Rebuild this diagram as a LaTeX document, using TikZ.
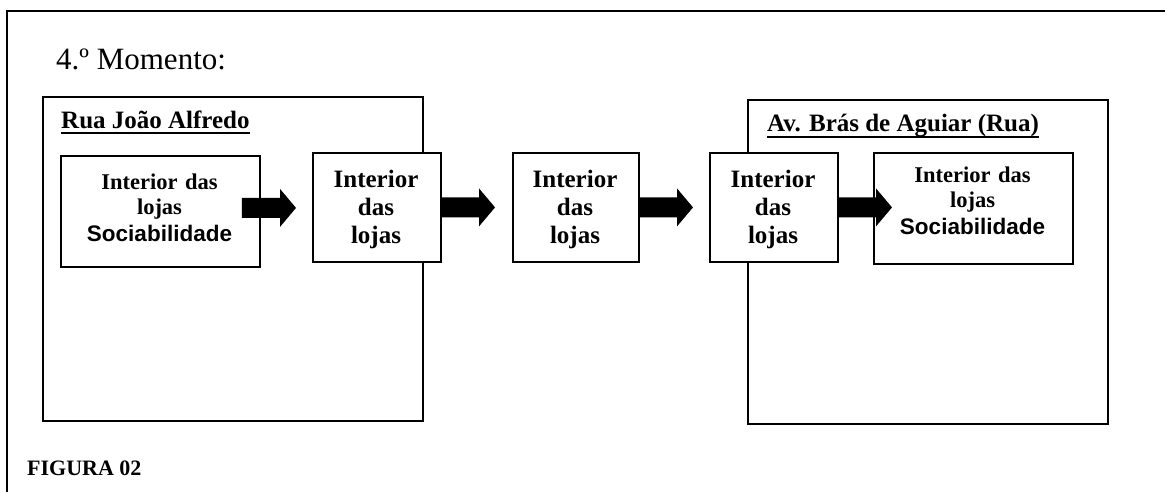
\documentclass[tikz,border=0pt]{standalone}
\usepackage{fontspec}
\setmainfont{Liberation Serif}
\newfontfamily\arialfam{Liberation Sans}
\usetikzlibrary{calc}
\newcommand\blockarrow[2]{%
  \fill let \p1=#1, \p2=#2 in
    (\x1,\y1+10pt) -- (\x2-16pt,\y1+10pt) -- (\x2-16pt,\y1+19pt) -- (\x2,\y1)
    -- (\x2-16pt,\y1-19pt) -- (\x2-16pt,\y1-10pt) -- (\x1,\y1-10pt) -- cycle;}
\tikzset{
  frameline/.style={line width=1.3pt},
  bigbox/.style={draw, line width=1.8pt, anchor=north west, inner sep=0pt},
  smallbox/.style={draw, line width=1.8pt, anchor=north west, inner sep=0pt, fill=white},
  titletext/.style={anchor=base west, inner sep=0pt, font=\fontsize{25}{30}\selectfont\bfseries},
  uline/.style={line width=1.8pt},
  txtwide/.style={anchor=base, inner sep=0pt, align=center, font=\fontsize{22.5}{25}\selectfont\bfseries},
  txtnarrow/.style={anchor=base, inner sep=0pt, align=center, font=\fontsize{25}{28}\selectfont\bfseries},
  sociabtext/.style={font=\arialfam\bfseries\fontsize{22.5}{26}\selectfont},
}
\newcommand\sociab{{\arialfam\bfseries\fontsize{22.5}{26}\selectfont Sociabilidade}}
\begin{document}
\begin{tikzpicture}[x=1pt,y=-1pt]
\useasboundingbox (0,0) rectangle (1165,491);
% outer frame (only top and left edges visible)
\coordinate (fTL) at (7,11);
\coordinate (fTR) at (1170,11);
\coordinate (fBL) at (7,496);
\draw[frameline] (fTR) -- (fTL) -- (fBL);

\node[anchor=base west, inner sep=0pt, font=\fontsize{31}{35}\selectfont] (mom) at (56,69) {4.º Momento:};

% big boxes
\node[bigbox, minimum width=380pt, minimum height=324pt] (L) at (42,96) {};
\node[bigbox, minimum width=360pt, minimum height=324pt] (R) at (747,99) {};

% titles
\node[titletext] (Lt) at (61,128) {Rua João Alfredo};
\draw[uline] ([yshift=-5pt]Lt.base west) -- ([yshift=-5pt]Lt.base east);
\node[titletext] (Rt) at (767,131) {Av. Brás de Aguiar (Rua)};
\draw[uline] ([yshift=-6pt]Rt.base west) -- ([yshift=-6pt]Rt.base east);

% small boxes
\node[smallbox, minimum width=199pt, minimum height=111pt] (A) at (60,155) {};
\node[smallbox, minimum width=128pt, minimum height=109pt] (B) at (312,152) {};
\node[smallbox, minimum width=126pt, minimum height=109pt] (C) at (512,152) {};
\node[smallbox, minimum width=128pt, minimum height=109pt] (D) at (709,152) {};
\node[smallbox, minimum width=199pt, minimum height=111pt] (E) at (873,152) {};

% texts in boxes
\node[txtwide, text width=199pt] (At) at (159.5,189) {Interior das\\lojas\\[2pt]\sociab};
\node[txtnarrow, text width=128pt] (Bt) at (376,187) {Interior\\das\\lojas};
\node[txtnarrow, text width=126pt] (Ct) at (575,187) {Interior\\das\\lojas};
\node[txtnarrow, text width=128pt] (Dt) at (773,187) {Interior\\das\\lojas};
\node[txtwide, text width=199pt] (Et) at (972.5,182) {Interior das\\lojas\\[2pt]\sociab};

% arrows
\coordinate (a1s) at ([xshift=-19pt,yshift=3.5pt]A.east);
\coordinate (a1e) at ([xshift=-16pt]B.west);
\coordinate (a2s) at (B.east);
\coordinate (a2e) at ([xshift=-17pt]C.west);
\coordinate (a3s) at (C.east);
\coordinate (a3e) at ([xshift=-16pt]D.west);
\coordinate (a4s) at (D.east);
\coordinate (a4e) at ([xshift=19pt]E.west);
\blockarrow{(a1s)}{(a1e)}
\blockarrow{(a2s)}{(a2e)}
\blockarrow{(a3s)}{(a3e)}
\blockarrow{(a4s)}{(a4e)}

\node[anchor=base west, inner sep=0pt, font=\fontsize{22}{26}\selectfont\bfseries] (fig) at (27,475) {FIGURA 02};
\end{tikzpicture}
\end{document}
